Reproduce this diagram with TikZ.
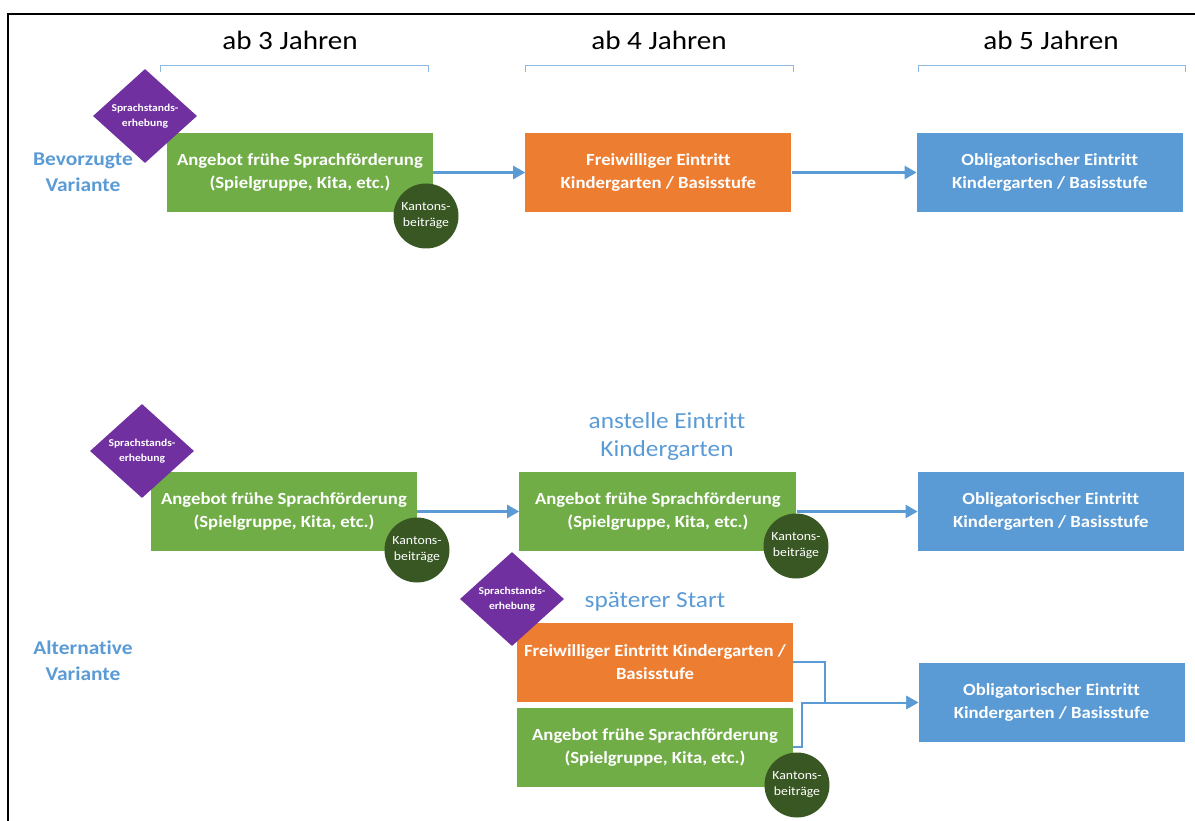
\documentclass[tikz,border=0pt]{standalone}
\usepackage{fontspec}
\setmainfont{Carlito}[FakeStretch=1.1, Ligatures=NoCommon]
\usetikzlibrary{positioning,shapes.geometric,arrows.meta}
\definecolor{gruen}{HTML}{70AD47}
\definecolor{orangeb}{HTML}{ED7D31}
\definecolor{blaub}{HTML}{5B9BD5}
\definecolor{lila}{HTML}{7030A0}
\definecolor{dunkelgruen}{HTML}{385723}

\tikzset{
    box/.style={minimum width=266pt, minimum height=79pt, inner sep=0pt, align=center, text=white, font=\bfseries\fontsize{17}{23.5}\selectfont},
    foerder/.style={box, fill=gruen},
    frei/.style={box, fill=orangeb},
    pflicht/.style={box, fill=blaub},
    erhebung/.style={diamond, fill=lila, minimum width=104pt, minimum height=94pt, inner sep=0pt, align=center, text=white, font=\bfseries\fontsize{10.5}{15}\selectfont},
    beitrag/.style={circle, fill=dunkelgruen, minimum size=65pt, inner sep=0pt, align=center, text=white, font=\fontsize{12.5}{16}\selectfont},
    pfeil/.style={blaub, line width=2.5pt, -{Triangle[length=12pt,width=13pt]}},
    klammer/.style={blaub!70, line width=0.8pt},
    alter/.style={font=\fontsize{26.5}{30}\selectfont},
    variante/.style={text=blaub, align=center, font=\bfseries\fontsize{19.5}{26}\selectfont},
    hinweis/.style={text=blaub, align=center, font=\fontsize{23}{28}\selectfont}
}

\begin{document}
\begin{tikzpicture}[x=1pt, y=-1pt]
    \useasboundingbox (0,0) rectangle (1195,821);
    \draw[line width=2pt] (8,821) -- (8,14) -- (1195,14);

    \node[alter] (j3) at (290,40) {ab 3 Jahren};
    \node[alter] (j4) at (659,40) {ab 4 Jahren};
    \node[alter] (j5) at (1051,40) {ab 5 Jahren};
    \draw[klammer] (160,72) -- (160,65) -- (428,65) -- (428,72);
    \draw[klammer] (525,72) -- (525,65) -- (793,65) -- (793,72);
    \draw[klammer] (918,72) -- (918,65) -- (1185,65) -- (1185,72);

    \node[variante] (bev) at (83,172) {Bevorzugte\\Variante};
    \node[foerder] (ang1) at (300,172.5) {Angebot frühe Sprachförderung\\(Spielgruppe, Kita, etc.)};
    \node[frei, right=92pt of ang1] (frei1) {Freiwilliger Eintritt\\Kindergarten / Basisstufe};
    \node[pflicht, right=125pt of frei1] (obl1) {Obligatorischer Eintritt\\Kindergarten / Basisstufe};
    \node[erhebung] (erh1) at (145,116) {Sprachstands-\\erhebung};
    \node[beitrag] (kb1) at (426,216) {Kantons-\\beiträge};
    \draw[pfeil] (ang1) -- (frei1);
    \draw[pfeil] (frei1) -- (obl1);

    \node[hinweis] (anst) at (667,436) {anstelle Eintritt\\Kindergarten};
    \node[foerder] (ang2) at (284,511.5) {Angebot frühe Sprachförderung\\(Spielgruppe, Kita, etc.)};
    \node[foerder, minimum width=277pt, right=102pt of ang2] (ang3) {Angebot frühe Sprachförderung\\(Spielgruppe, Kita, etc.)};
    \node[pflicht, right=121pt of ang3] (obl2) {Obligatorischer Eintritt\\Kindergarten / Basisstufe};
    \node[erhebung] (erh2) at (142,451) {Sprachstands-\\erhebung};
    \node[beitrag] (kb2) at (417,550) {Kantons-\\beiträge};
    \node[beitrag] (kb3) at (796,546) {Kantons-\\beiträge};
    \draw[pfeil] (ang2) -- (ang3);
    \draw[pfeil] (ang3) -- (obl2);

    \node[variante] (alt) at (83,661) {Alternative\\Variante};
    \node[hinweis] (spaet) at (655,602) {späterer Start};
    \node[frei, minimum width=276pt] (frei2) at (655,662) {Freiwilliger Eintritt Kindergarten /\\Basisstufe};
    \node[foerder, minimum width=276pt, below=6pt of frei2] (ang4) {Angebot frühe Sprachförderung\\(Spielgruppe, Kita, etc.)};
    \node[pflicht] (obl3) at (1051.5,702.5) {Obligatorischer Eintritt\\Kindergarten / Basisstufe};
    \node[erhebung] (erh3) at (512,599) {Sprachstands-\\erhebung};
    \node[beitrag] (kb4) at (797,785) {Kantons-\\beiträge};
    \draw[pfeil, line width=2pt] (frei2.east) -- ++(32,0) |- (obl3.west);
    \draw[pfeil, line width=2pt] (ang4.east) -- ++(9,0) |- (obl3.west);
\end{tikzpicture}
\end{document}
